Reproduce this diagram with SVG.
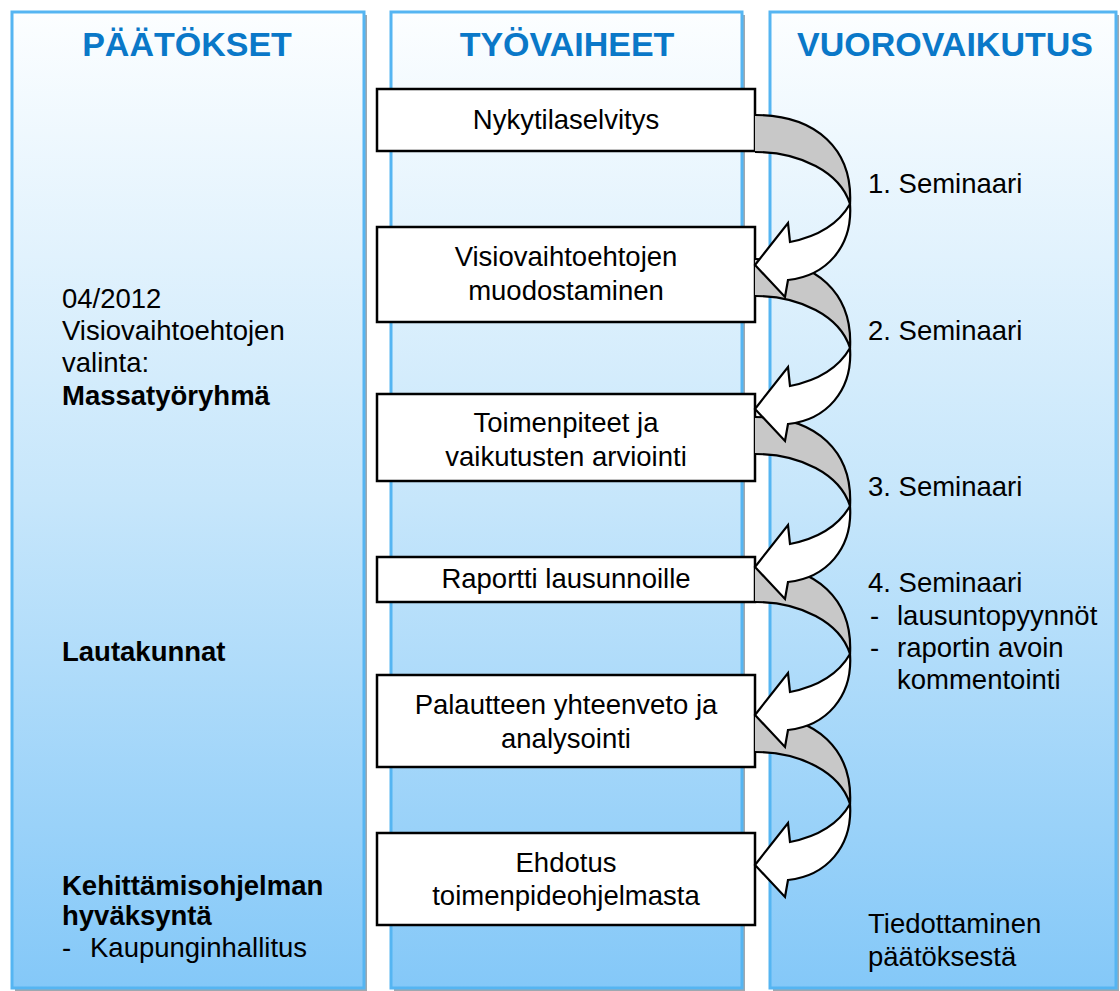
<svg xmlns="http://www.w3.org/2000/svg" xmlns:xlink="http://www.w3.org/1999/xlink" width="1120" height="991" viewBox="0 0 1120 991">
  <defs>
    <linearGradient id="colFill" x1="0" y1="0" x2="0" y2="1">
      <stop offset="0" stop-color="#fcfeff"/>
      <stop offset="0.5" stop-color="#c6e6fb"/>
      <stop offset="1" stop-color="#84c8f8"/>
    </linearGradient>
    <!-- rear (grey) half of the curved arrow -->
    <path id="bandFill" d="M755,115 C817,115 853,150 850,204 C840,172 800,152 755,152 Z"/>
    <path id="bandEdges" d="M755,115 C817,115 853,150 850,204 M755,152 C800,152 840,172 850,204"/>
    <!-- front (white) half with the arrowhead -->
    <path id="head" d="M850,204 C853,247 826,276 788,280 L785,297 L755,265 L788,223 L790,242 C815,237 838,225 850,204 Z"/>
  </defs>
  <style>
    .col { fill: url(#colFill); stroke: #55b5f2; stroke-width: 3; }
    .shadow { fill: #9ea8b0; }
    .title { font-family: "Liberation Sans", Arial, sans-serif; font-weight: bold; font-size: 34px; fill: #0a78c8; text-anchor: middle; }
    .box { fill: #ffffff; stroke: #000000; stroke-width: 2.5; }
    .t { font-family: "Liberation Sans", Arial, sans-serif; font-size: 27.5px; fill: #000000; }
    .c { text-anchor: middle; }
    .b { font-weight: bold; }
    .band { fill: #c8c8c8; stroke: none; }
    .edge { fill: none; stroke: #000000; stroke-width: 2.2; }
    .head { fill: #ffffff; stroke: #000000; stroke-width: 2.2; stroke-linejoin: miter; }
  </style>

  <rect width="1120" height="991" fill="#ffffff"/>

  <!-- columns -->
  <g id="col-paatokset">
    <rect class="shadow" x="15" y="15" width="352" height="976"/>
    <rect class="col" x="12" y="12" width="352" height="976"/>
    <text class="title" x="187" y="56">PÄÄTÖKSET</text>
  </g>
  <g id="col-tyovaiheet">
    <rect class="shadow" x="394" y="15" width="351" height="976"/>
    <rect class="col" x="391" y="12" width="351" height="976"/>
    <text class="title" x="567" y="56">TYÖVAIHEET</text>
  </g>
  <g id="col-vuorovaikutus">
    <rect class="shadow" x="773" y="15" width="346" height="976"/>
    <rect class="col" x="770" y="12" width="346" height="976"/>
    <text class="title" x="945" y="56">VUOROVAIKUTUS</text>
  </g>

  <!-- decisions -->
  <g id="decisions">
    <text class="t" x="62" y="308">04/2012</text>
    <text class="t" x="62" y="340">Visiovaihtoehtojen</text>
    <text class="t" x="62" y="372">valinta:</text>
    <text class="t b" x="62" y="405">Massatyöryhmä</text>
    <text class="t b" x="62" y="661">Lautakunnat</text>
    <text class="t b" x="62" y="895">Kehittämisohjelman</text>
    <text class="t b" x="62" y="925">hyväksyntä</text>
    <text class="t" x="62" y="957">-</text>
    <text class="t" x="90" y="957">Kaupunginhallitus</text>
  </g>

  <!-- work phases -->
  <g id="phase1">
    <rect class="box" x="377" y="89" width="378" height="62"/>
    <text class="t c" x="566" y="129">Nykytilaselvitys</text>
  </g>
  <g id="phase2">
    <rect class="box" x="377" y="227" width="378" height="95"/>
    <text class="t c" x="566" y="266">Visiovaihtoehtojen</text>
    <text class="t c" x="566" y="300">muodostaminen</text>
  </g>
  <g id="phase3">
    <rect class="box" x="377" y="394" width="378" height="87"/>
    <text class="t c" x="566" y="432">Toimenpiteet ja</text>
    <text class="t c" x="566" y="466">vaikutusten arviointi</text>
  </g>
  <g id="phase4">
    <rect class="box" x="377" y="557" width="378" height="45"/>
    <text class="t c" x="566" y="588">Raportti lausunnoille</text>
  </g>
  <g id="phase5">
    <rect class="box" x="377" y="675" width="378" height="92"/>
    <text class="t c" x="566" y="714">Palautteen yhteenveto ja</text>
    <text class="t c" x="566" y="748">analysointi</text>
  </g>
  <g id="phase6">
    <rect class="box" x="377" y="833" width="378" height="92"/>
    <text class="t c" x="566" y="872">Ehdotus</text>
    <text class="t c" x="566" y="905">toimenpideohjelmasta</text>
  </g>

  <!-- curved arrows between phases -->
  <g id="connectors">
    <use xlink:href="#bandFill" class="band"/>
    <use xlink:href="#bandFill" class="band" transform="translate(0,144)"/>
    <use xlink:href="#bandFill" class="band" transform="translate(0,302)"/>
    <use xlink:href="#bandFill" class="band" transform="translate(0,450)"/>
    <use xlink:href="#bandFill" class="band" transform="translate(0,600)"/>
    <use xlink:href="#bandEdges" class="edge"/>
    <use xlink:href="#bandEdges" class="edge" transform="translate(0,144)"/>
    <use xlink:href="#bandEdges" class="edge" transform="translate(0,302)"/>
    <use xlink:href="#bandEdges" class="edge" transform="translate(0,450)"/>
    <use xlink:href="#bandEdges" class="edge" transform="translate(0,600)"/>
    <use xlink:href="#head" class="head"/>
    <use xlink:href="#head" class="head" transform="translate(0,144)"/>
    <use xlink:href="#head" class="head" transform="translate(0,302)"/>
    <use xlink:href="#head" class="head" transform="translate(0,450)"/>
    <use xlink:href="#head" class="head" transform="translate(0,600)"/>
  </g>

  <!-- interaction -->
  <g id="interaction">
    <text class="t" x="868" y="193">1. Seminaari</text>
    <text class="t" x="868" y="340">2. Seminaari</text>
    <text class="t" x="868" y="496">3. Seminaari</text>
    <text class="t" x="868" y="592">4. Seminaari</text>
    <text class="t" x="870" y="625">-</text>
    <text class="t" x="897" y="625">lausuntopyynnöt</text>
    <text class="t" x="870" y="657">-</text>
    <text class="t" x="897" y="657">raportin avoin</text>
    <text class="t" x="897" y="689">kommentointi</text>
    <text class="t" x="868" y="933">Tiedottaminen</text>
    <text class="t" x="868" y="966">päätöksestä</text>
  </g>
</svg>
